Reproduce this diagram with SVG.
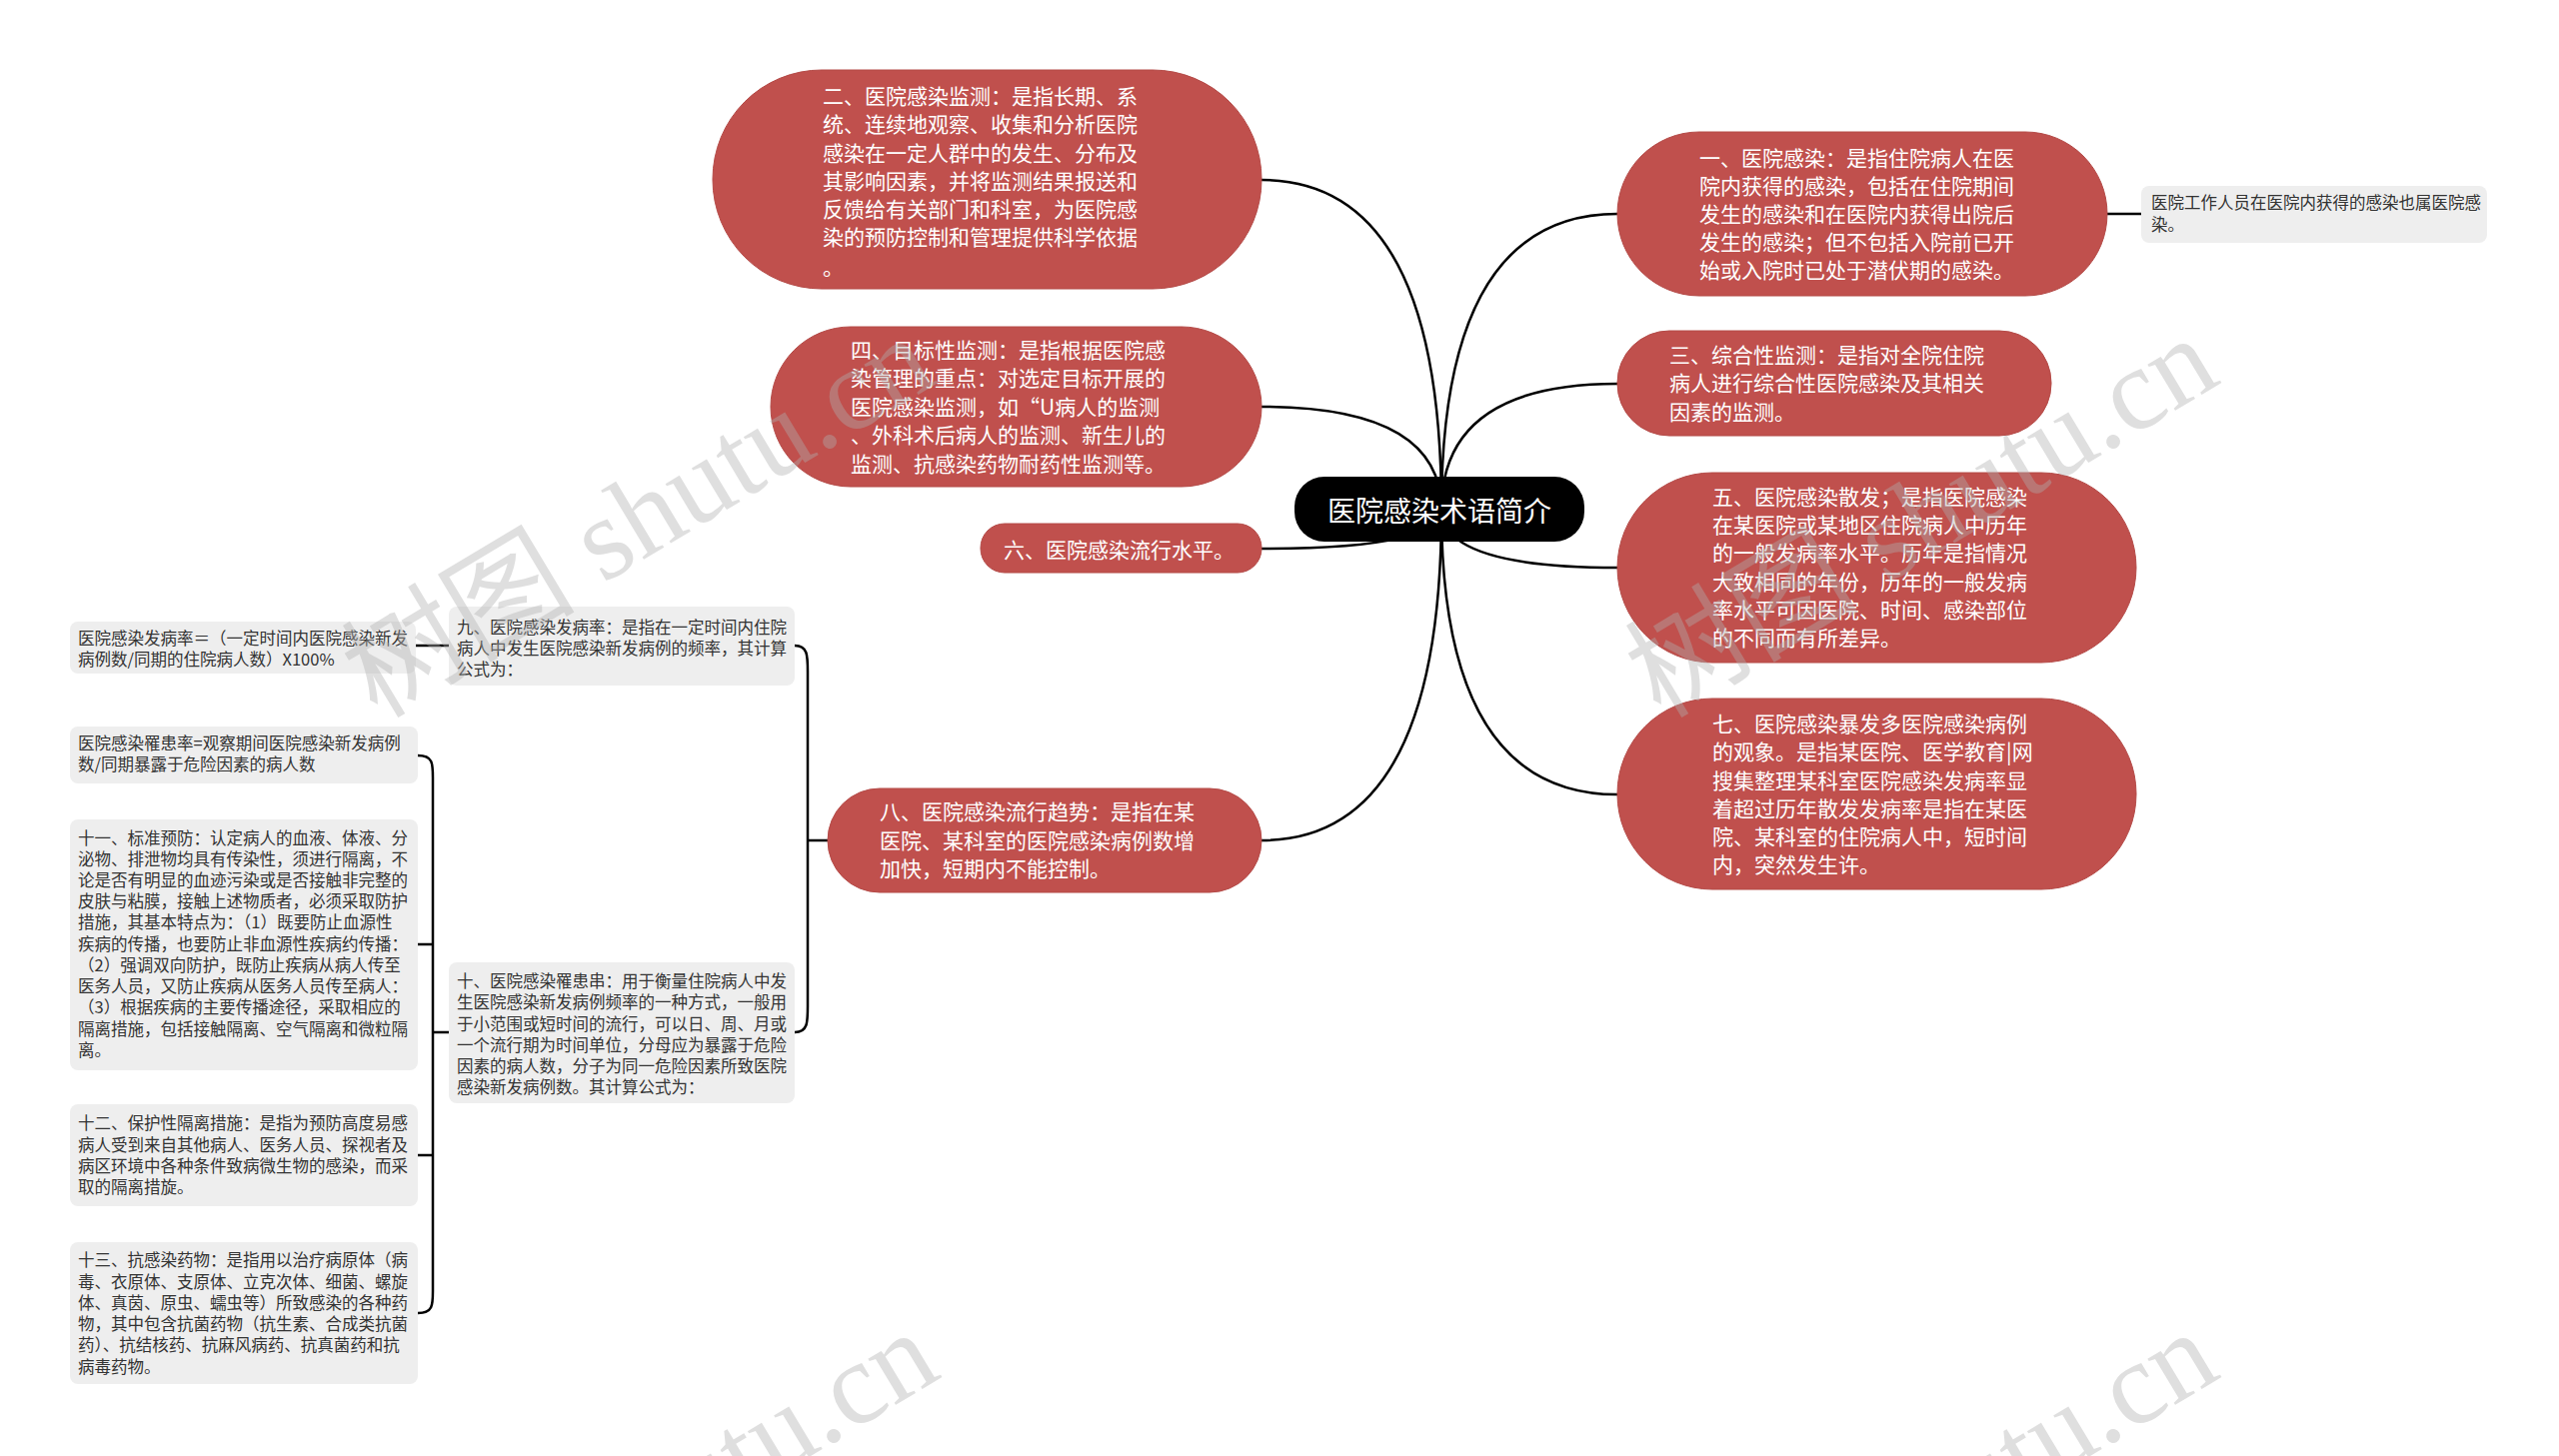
<svg xmlns="http://www.w3.org/2000/svg" width="2560" height="1457" viewBox="0 0 2560 1457">
<style>
.red{fill:#c0504d;stroke:#b44a47;stroke-width:1}
.gray{fill:#eeeeee}
.rt{font-family:"Noto Sans CJK SC","Noto Sans",sans-serif;font-size:21px;fill:#ffffff;dominant-baseline:central}
.gt{font-family:"Noto Sans CJK SC","Noto Sans",sans-serif;font-size:16.5px;fill:#333333;dominant-baseline:central}
.conn path{fill:none;stroke:#000;stroke-width:2.5}
.wm{font-family:"Liberation Serif","Noto Sans CJK SC",serif;font-size:117px;fill:#b0b0b0;opacity:0.4}
</style>
<rect width="2560" height="1457" fill="#ffffff"/>
<g id="connectors" class="conn">
<path d="M1442 510 Q1442 180 1262 180"/>
<path d="M1442 510 Q1442 407 1262 407"/>
<path d="M1442 510 Q1442 549 1262 549"/>
<path d="M1442 510 Q1442 841 1262 841"/>
<path d="M1442 510 Q1442 214 1618 214"/>
<path d="M1442 510 Q1442 384 1618 384"/>
<path d="M1442 510 Q1442 568 1618 568"/>
<path d="M1442 510 Q1442 795 1618 795"/>
<path d="M2108 214 L2142 214"/>
<path d="M416 646 L449 646"/>
<path d="M795 646 C808 646 808 656 808 672 L808 1007 C808 1023 808 1033 795 1033 M808 841 L828 841"/>
<path d="M418 756 C433 756 433 764 433 778 L433 1292 C433 1306 433 1314 418 1314 M433 1033 L449 1033 M418 945 L433 945 M418 1156 L433 1156"/>
</g>
<g id="root">
<rect x="1295" y="477" width="290" height="65" rx="30" fill="#000"/>
<text x="1440" y="510" font-family="Noto Sans CJK SC, sans-serif" font-size="28" fill="#fff" text-anchor="middle" dominant-baseline="central">医院感染术语简介</text>
</g>
<g id="n2">
<rect class="red" x="713" y="70" width="549" height="219" rx="109"/>
<text class="rt"><tspan x="823" y="95">二、医院感染监测：是指长期、系</tspan><tspan x="823" y="123">统、连续地观察、收集和分析医院</tspan><tspan x="823" y="152">感染在一定人群中的发生、分布及</tspan><tspan x="823" y="180">其影响因素，并将监测结果报送和</tspan><tspan x="823" y="208">反馈给有关部门和科室，为医院感</tspan><tspan x="823" y="236">染的预防控制和管理提供科学依据</tspan><tspan x="823" y="266">。</tspan></text>
</g>
<g id="n4">
<rect class="red" x="771" y="327" width="491" height="160" rx="80"/>
<text class="rt"><tspan x="851" y="349">四、目标性监测：是指根据医院感</tspan><tspan x="851" y="377">染管理的重点：对选定目标开展的</tspan><tspan x="851" y="406">医院感染监测，如“U病人的监测</tspan><tspan x="851" y="434">、外科术后病人的监测、新生儿的</tspan><tspan x="851" y="463">监测、抗感染药物耐药性监测等。</tspan></text>
</g>
<g id="n6">
<rect class="red" x="981" y="524" width="281" height="49" rx="24"/>
<text class="rt" x="1004" y="549">六、医院感染流行水平。</text>
</g>
<g id="n8">
<rect class="red" x="828" y="789" width="434" height="104" rx="52"/>
<text class="rt"><tspan x="880" y="811">八、医院感染流行趋势：是指在某</tspan><tspan x="880" y="840">医院、某科室的医院感染病例数增</tspan><tspan x="880" y="868">加快，短期内不能控制。</tspan></text>
</g>
<g id="n1">
<rect class="red" x="1618" y="132" width="490" height="164" rx="82"/>
<text class="rt"><tspan x="1700" y="157">一、医院感染：是指住院病人在医</tspan><tspan x="1700" y="185">院内获得的感染，包括在住院期间</tspan><tspan x="1700" y="213">发生的感染和在医院内获得出院后</tspan><tspan x="1700" y="241">发生的感染；但不包括入院前已开</tspan><tspan x="1700" y="269">始或入院时已处于潜伏期的感染。</tspan></text>
</g>
<g id="n1c">
<rect class="gray" x="2142" y="186" width="346" height="57" rx="8"/>
<text class="gt"><tspan x="2152" y="202">医院工作人员在医院内获得的感染也属医院感</tspan><tspan x="2152" y="224">染。</tspan></text>
</g>
<g id="n3">
<rect class="red" x="1618" y="331" width="434" height="105" rx="52"/>
<text class="rt"><tspan x="1670" y="354">三、综合性监测：是指对全院住院</tspan><tspan x="1670" y="382">病人进行综合性医院感染及其相关</tspan><tspan x="1670" y="411">因素的监测。</tspan></text>
</g>
<g id="n5">
<rect class="red" x="1618" y="473" width="519" height="190" rx="95"/>
<text class="rt"><tspan x="1713" y="496">五、医院感染散发；是指医院感染</tspan><tspan x="1713" y="524">在某医院或某地区住院病人中历年</tspan><tspan x="1713" y="552">的一般发病率水平。历年是指情况</tspan><tspan x="1713" y="581">大致相同的年份，历年的一般发病</tspan><tspan x="1713" y="609">率水平可因医院、时间、感染部位</tspan><tspan x="1713" y="637">的不同而有所差异。</tspan></text>
</g>
<g id="n7">
<rect class="red" x="1618" y="699" width="519" height="191" rx="95"/>
<text class="rt"><tspan x="1713" y="723">七、医院感染暴发多医院感染病例</tspan><tspan x="1713" y="751">的观象。是指某医院、医学教育|网</tspan><tspan x="1713" y="780">搜集整理某科室医院感染发病率显</tspan><tspan x="1713" y="808">着超过历年散发发病率是指在某医</tspan><tspan x="1713" y="836">院、某科室的住院病人中，短时间</tspan><tspan x="1713" y="864">内，突然发生许。</tspan></text>
</g>
<g id="n9">
<rect class="gray" x="449" y="607" width="346" height="79" rx="8"/>
<text class="gt"><tspan x="457" y="627">九、医院感染发病率：是指在一定时间内住院</tspan><tspan x="457" y="648">病人中发生医院感染新发病例的频率，其计算</tspan><tspan x="457" y="669">公式为：</tspan></text>
</g>
<g id="n9c">
<rect class="gray" x="70" y="622" width="346" height="52" rx="8"/>
<text class="gt"><tspan x="78" y="638">医院感染发病率＝（一定时间内医院感染新发</tspan><tspan x="78" y="659">病例数/同期的住院病人数）X100%</tspan></text>
</g>
<g id="n10">
<rect class="gray" x="449" y="963" width="346" height="141" rx="8"/>
<text class="gt"><tspan x="457" y="981">十、医院感染罹患串：用于衡量住院病人中发</tspan><tspan x="457" y="1002">生医院感染新发病例频率的一种方式，一般用</tspan><tspan x="457" y="1024">于小范围或短时间的流行，可以日、周、月或</tspan><tspan x="457" y="1045">一个流行期为时间单位，分母应为暴露于危险</tspan><tspan x="457" y="1066">因素的病人数，分子为同一危险因素所致医院</tspan><tspan x="457" y="1087">感染新发病例数。其计算公式为：</tspan></text>
</g>
<g id="n10a">
<rect class="gray" x="70" y="727" width="348" height="57" rx="8"/>
<text class="gt"><tspan x="78" y="743">医院感染罹患率=观察期间医院感染新发病例</tspan><tspan x="78" y="764">数/同期暴露于危险因素的病人数</tspan></text>
</g>
<g id="n11">
<rect class="gray" x="70" y="820" width="348" height="251" rx="8"/>
<text class="gt"><tspan x="78" y="838">十一、标准预防：认定病人的血液、体液、分</tspan><tspan x="78" y="859">泌物、排泄物均具有传染性，须进行隔离，不</tspan><tspan x="78" y="880">论是否有明显的血迹污染或是否接触非完整的</tspan><tspan x="78" y="901">皮肤与粘膜，接触上述物质者，必须采取防护</tspan><tspan x="78" y="922">措施，其基本特点为：（1）既要防止血源性</tspan><tspan x="78" y="944">疾病的传播，也要防止非血源性疾病约传播：</tspan><tspan x="78" y="965">（2）强调双向防护，既防止疾病从病人传至</tspan><tspan x="78" y="986">医务人员，又防止疾病从医务人员传至病人：</tspan><tspan x="78" y="1007">（3）根据疾病的主要传播途径，采取相应的</tspan><tspan x="78" y="1029">隔离措施，包括接触隔离、空气隔离和微粒隔</tspan><tspan x="78" y="1050">离。</tspan></text>
</g>
<g id="n12">
<rect class="gray" x="70" y="1105" width="348" height="102" rx="8"/>
<text class="gt"><tspan x="78" y="1123">十二、保护性隔离措施：是指为预防高度易感</tspan><tspan x="78" y="1145">病人受到来自其他病人、医务人员、探视者及</tspan><tspan x="78" y="1166">病区环境中各种条件致病微生物的感染，而采</tspan><tspan x="78" y="1187">取的隔离措旋。</tspan></text>
</g>
<g id="n13">
<rect class="gray" x="70" y="1243" width="348" height="142" rx="8"/>
<text class="gt"><tspan x="78" y="1260">十三、抗感染药物：是指用以治疗病原体（病</tspan><tspan x="78" y="1282">毒、衣原体、支原体、立克次体、细菌、螺旋</tspan><tspan x="78" y="1303">体、真茵、原虫、蠕虫等）所致感染的各种药</tspan><tspan x="78" y="1324">物，其中包含抗菌药物（抗生素、合成类抗菌</tspan><tspan x="78" y="1345">药）、抗结核药、抗麻风病药、抗真菌药和抗</tspan><tspan x="78" y="1367">病毒药物。</tspan></text>
</g>
<g id="watermarks">
<text class="wm" text-anchor="end" transform="translate(940 382) rotate(-31)">树图 shutu.cn</text>
<text class="wm" text-anchor="end" transform="translate(2224 382) rotate(-31)">树图 shutu.cn</text>
<text class="wm" text-anchor="end" transform="translate(944 1377) rotate(-31)">树图 shutu.cn</text>
<text class="wm" text-anchor="end" transform="translate(2224 1377) rotate(-31)">树图 shutu.cn</text>
</g>
</svg>
